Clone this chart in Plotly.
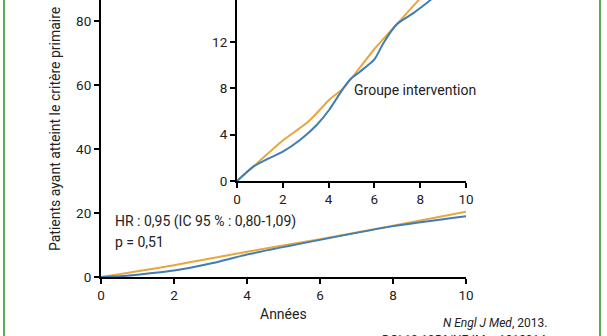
import plotly.graph_objects as go

# Cumulative incidence of the primary endpoint (%), by year of follow-up.
# Full-scale panel (0-80 %)
years_main = [0, 0.5, 1, 2, 3, 4, 6, 8, 10]
pct_ctrl_main = [0, 0.9, 1.8, 3.7, 5.8, 7.9, 11.8, 16.0, 20.4]
pct_int_main = [0, 0.2, 0.7, 2.0, 4.2, 7.0, 11.6, 15.9, 19.0]

# Zoomed inset (0-16 %)
years_ctrl = [0, 0.86, 2.0, 3.04, 3.48, 4.02, 4.64, 5.23, 6.0, 6.54, 6.99, 7.55, 7.92, 9.0, 10.0]
pct_ctrl = [0, 1.5, 3.5, 5.0, 5.85, 7.0, 8.0, 9.44, 11.4, 12.6, 13.56, 14.8, 15.6, 17.9, 20.4]
years_int = [0, 0.71, 1.3, 2.0, 2.75, 3.48, 4.02, 4.64, 4.99, 5.37, 6.0, 6.39, 6.99, 7.7, 8.43, 9.0, 10.0]
pct_int = [0, 1.24, 1.87, 2.53, 3.54, 4.84, 6.13, 8.0, 8.87, 9.44, 10.5, 11.9, 13.56, 14.5, 15.6, 16.7, 19.0]

main_ticks = [0, 20, 40, 60, 80]
inset_ticks = [0, 4, 8, 12]
x_ticks = [0, 2, 4, 6, 8, 10]

ORANGE = "#E8A63C"
BLUE = "#3E7DB6"
INK = "#222222"
GREEN = "#5FA862"
FONT = "Roboto"

W, H = 607, 336
L, R, T, B = 101, 141, 0, 59
PW, PH = W - L - R, H - T - B


def px_x(x):
    return (x - L) / PW


def px_y(y):
    return (H - B - y) / PH


fig = go.Figure()

line_style = dict(width=2, shape="spline", smoothing=0.6)
for xs, ys, color, ax in [
    (years_main, pct_ctrl_main, ORANGE, ("x", "y")),
    (years_main, pct_int_main, BLUE, ("x", "y")),
    (years_ctrl, pct_ctrl, ORANGE, ("x2", "y2")),
    (years_int, pct_int, BLUE, ("x2", "y2")),
]:
    fig.add_trace(go.Scatter(
        x=xs, y=ys, mode="lines", line=dict(color=color, **line_style),
        xaxis=ax[0], yaxis=ax[1], showlegend=False, hoverinfo="skip",
    ))

axis_common = dict(
    showline=True, linecolor="black", linewidth=2, showgrid=False, zeroline=False,
    ticks="outside", ticklen=5, tickwidth=2, tickcolor="black",
    tickfont=dict(family=FONT, size=13.5, color=INK), fixedrange=True,
)

fig.update_layout(
    width=W, height=H, autosize=False,
    margin=dict(l=L, r=R, t=T, b=B, pad=0),
    paper_bgcolor="white", plot_bgcolor="white",
    xaxis=dict(range=[0, 10], tickvals=x_ticks, domain=[0, 1], anchor="y", **axis_common),
    yaxis=dict(range=[0, PH / 3.2], tickvals=main_ticks, domain=[0, 1], anchor="x", **axis_common),
    xaxis2=dict(range=[0, 10], tickvals=x_ticks, domain=[px_x(237), px_x(466)], anchor="y2", **axis_common),
    yaxis2=dict(range=[0, 181 / 11.58], tickvals=inset_ticks, domain=[px_y(181), 1], anchor="x2", **axis_common),
)

text_font = dict(family=FONT, size=14, color=INK)
annotations = [
    dict(text="Patients ayant atteint le critère primaire", xref="paper", yref="paper",
         x=px_x(55), y=px_y(129), textangle=-90, showarrow=False, font=text_font,
         xanchor="center", yanchor="middle"),
    dict(text="Années", xref="paper", yref="paper", x=0.5, y=px_y(314), showarrow=False,
         font=text_font, xanchor="center", yanchor="middle"),
    dict(text="HR : 0,95 (IC 95 % : 0,80-1,09)", xref="x", yref="y", x=0.32, y=17.2,
         showarrow=False, font=text_font, xanchor="left", yanchor="middle"),
    dict(text="p = 0,51", xref="x", yref="y", x=0.32, y=10.9,
         showarrow=False, font=text_font, xanchor="left", yanchor="middle"),
    dict(text="Groupe intervention", xref="x2", yref="y2", x=5.02, y=7.86,
         showarrow=False, font=text_font, xanchor="left", yanchor="middle"),
    # top tick of the inset axis, running past the upper edge
    dict(text="16", xref="paper", yref="paper", x=px_x(228), y=px_y(-4.5),
         showarrow=False, font=dict(family=FONT, size=13.5, color=INK),
         xanchor="right", yanchor="middle"),
    dict(text="<i>N Engl J Med</i>, 2013.", xref="paper", yref="paper", x=px_x(549), y=px_y(323),
         showarrow=False, font=dict(family=FONT, size=12, color=INK), xanchor="right", yanchor="middle"),
    dict(text="DOI:10.1056/NEJMoa1212914.", xref="paper", yref="paper", x=px_x(551), y=px_y(340),
         showarrow=False, font=dict(family=FONT, size=12, color=INK), xanchor="right", yanchor="middle"),
]
fig.update_layout(annotations=annotations)

# green frame edges on both sides
for xp in (4, 600):
    fig.add_shape(type="line", xref="paper", yref="paper", x0=px_x(xp), x1=px_x(xp),
                  y0=-1, y1=2, line=dict(color=GREEN, width=2), layer="above")

fig.write_html("out.html")
